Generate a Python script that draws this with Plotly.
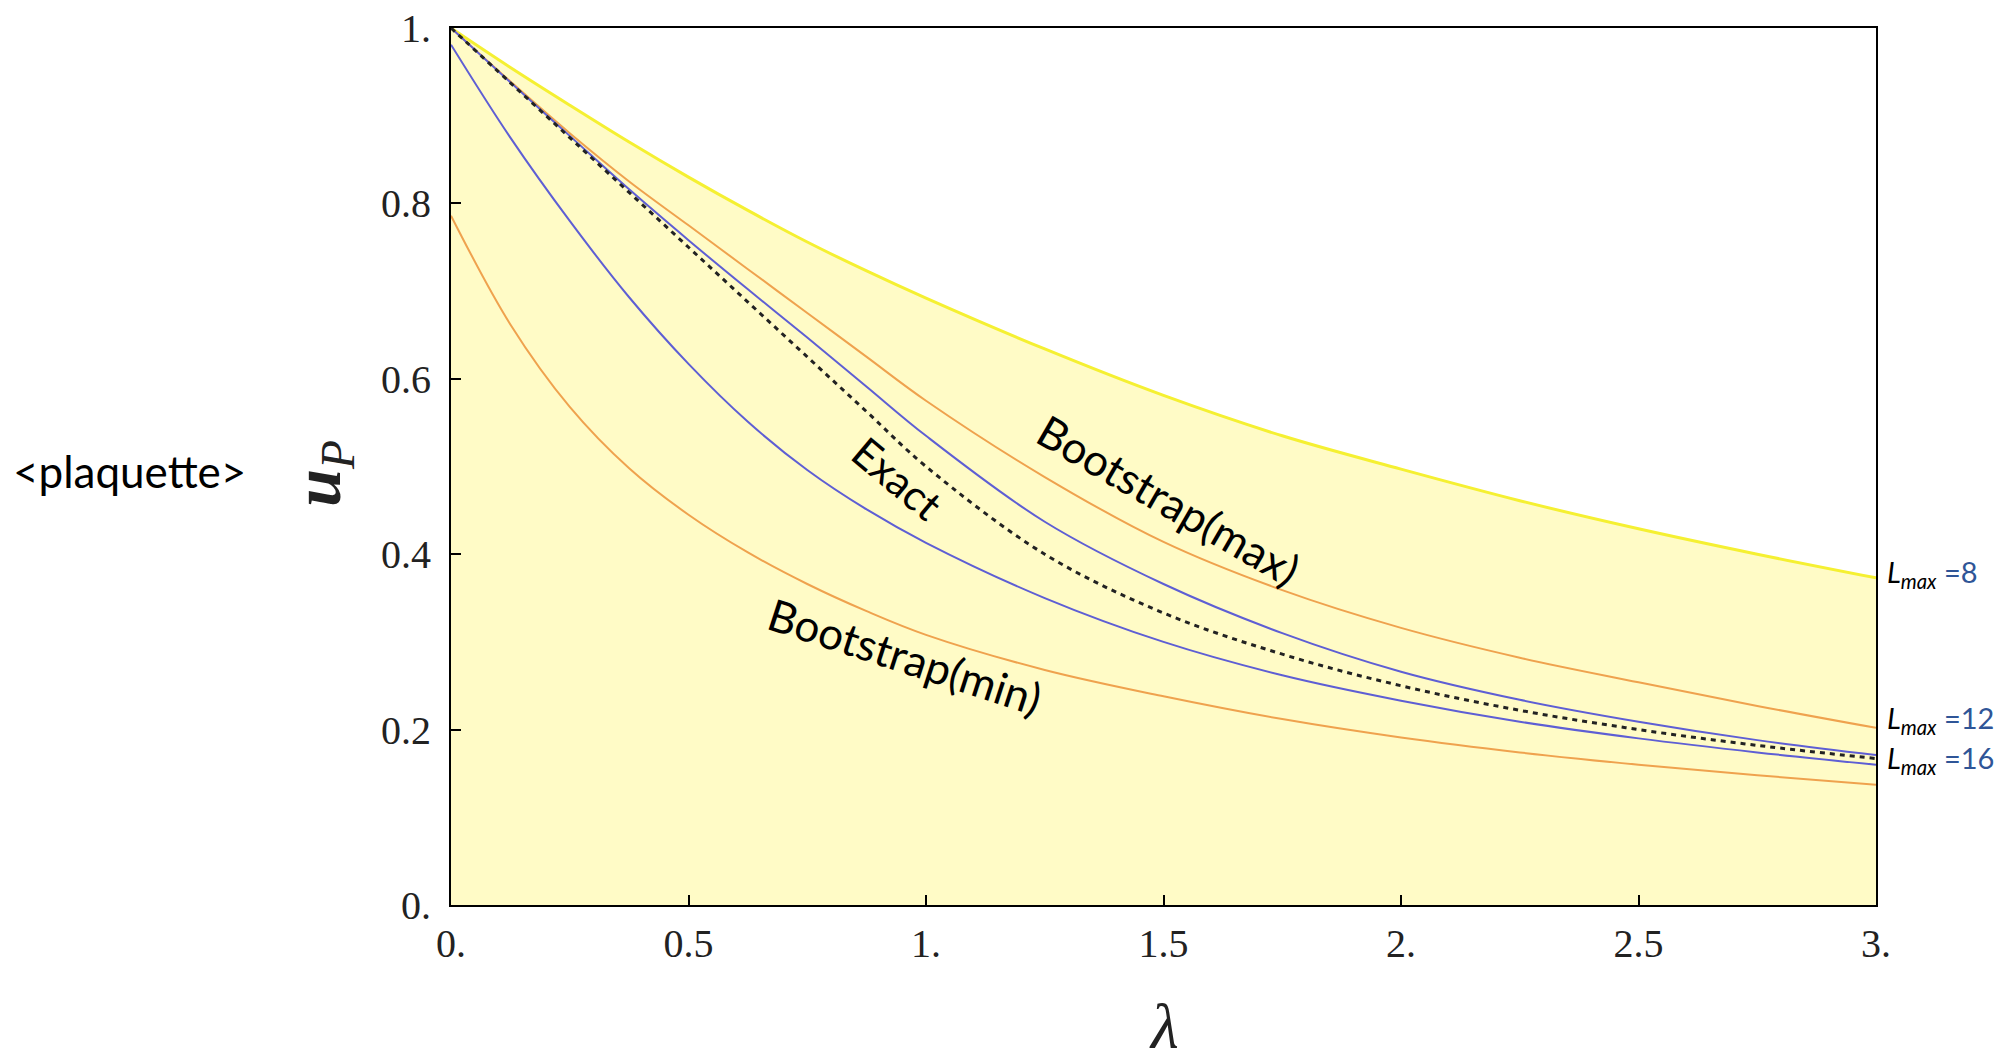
import plotly.graph_objects as go

# lambda grid (read positions)
lam = [0, 0.125, 0.25, 0.375, 0.5, 0.625, 0.75, 0.875, 1.0, 1.25, 1.5, 1.75, 2.0, 2.25, 2.5, 2.75, 3.0]

# Lmax=8 upper bound (yellow)
up8 = [1.0, 0.955, 0.912, 0.870, 0.830, 0.792, 0.756, 0.723, 0.692, 0.634, 0.581, 0.535, 0.497, 0.461, 0.429, 0.400, 0.373]
# Lmax=12 bounds (orange) - Bootstrap(max) / Bootstrap(min)
up12 = [1.0, 0.939, 0.880, 0.825, 0.775, 0.725, 0.675, 0.625, 0.575, 0.488, 0.414, 0.359, 0.316, 0.282, 0.254, 0.227, 0.202]
lo12 = [0.786, 0.662, 0.568, 0.498, 0.445, 0.402, 0.366, 0.335, 0.308, 0.268, 0.238, 0.212, 0.191, 0.174, 0.160, 0.148, 0.137]
# Lmax=16 bounds (blue)
up16 = [1.0, 0.938, 0.877, 0.816, 0.758, 0.702, 0.647, 0.591, 0.535, 0.437, 0.366, 0.310, 0.266, 0.234, 0.209, 0.188, 0.171]
lo16 = [0.981, 0.875, 0.780, 0.693, 0.617, 0.551, 0.496, 0.451, 0.413, 0.350, 0.300, 0.262, 0.233, 0.209, 0.190, 0.174, 0.160]
# Exact result (dashed)
exact = [1.0, 0.9375, 0.875, 0.8125, 0.750, 0.6875, 0.625, 0.5625, 0.500, 0.400, 0.333, 0.286, 0.250, 0.222, 0.200, 0.182, 0.167]

xtick_vals = [0, 0.5, 1, 1.5, 2, 2.5, 3]
xtick_text = ["0.", "0.5", "1.", "1.5", "2.", "2.5", "3."]
ytick_vals = [0, 0.2, 0.4, 0.6, 0.8, 1.0]
ytick_text = ["0.", "0.2", "0.4", "0.6", "0.8", "1."]

YELLOW = "#F5F032"
FILL = "#FFFBC6"
ORANGE = "#EFA24E"
BLUE = "#5E5ED4"
LBLUE = "#2F5597"

fig = go.Figure()
fig.add_trace(go.Scatter(x=lam, y=up8, mode="lines", fill="tozeroy", fillcolor=FILL,
                         line=dict(color=YELLOW, width=3, shape="spline"), showlegend=False))
fig.add_trace(go.Scatter(x=lam, y=up12, mode="lines", line=dict(color=ORANGE, width=2, shape="spline"), showlegend=False))
fig.add_trace(go.Scatter(x=lam, y=lo12, mode="lines", line=dict(color=ORANGE, width=2, shape="spline"), showlegend=False))
fig.add_trace(go.Scatter(x=lam, y=up16, mode="lines", line=dict(color=BLUE, width=2, shape="spline"), showlegend=False))
fig.add_trace(go.Scatter(x=lam, y=lo16, mode="lines", line=dict(color=BLUE, width=2, shape="spline"), showlegend=False))
fig.add_trace(go.Scatter(x=lam, y=exact, mode="lines", line=dict(color="#222222", width=3, dash="5px,5px", shape="spline"), showlegend=False))

serif = "Liberation Serif"
sans = "Lato"

# page body has an 8px margin, so the figure is sized/offset to compensate
fig.update_layout(
    width=1997, height=1048,
    margin=dict(l=443, r=129, t=20, b=151, autoexpand=False),
    paper_bgcolor="white", plot_bgcolor="white",
    xaxis=dict(range=[0, 3], tickvals=xtick_vals, ticktext=xtick_text, showgrid=False, zeroline=False,
               showline=True, linecolor="black", linewidth=2, mirror=True, automargin=False,
               ticks="inside", ticklen=10, tickwidth=1.5, tickcolor="black", ticklabeloverflow="allow",
               tickfont=dict(family=serif, size=40, color="#222"), ticklabelstandoff=2),
    yaxis=dict(range=[0, 1], tickvals=ytick_vals, ticktext=ytick_text, showgrid=False, zeroline=False,
               showline=True, linecolor="black", linewidth=2, mirror=True, automargin=False,
               ticks="inside", ticklen=10, tickwidth=1.5, tickcolor="black", ticklabeloverflow="allow",
               tickfont=dict(family=serif, size=40, color="#222"), ticklabelstandoff=10),
)

ann = []
ann.append(dict(text="<i>λ</i>", x=0.5, y=-0.138, xref="paper", yref="paper", showarrow=False,
                xanchor="center", yanchor="middle", height=56, valign="middle",
                font=dict(family=serif, size=64, color="#222")))
ann.append(dict(text="<b><i>u</i></b><sub><i>P</i></sub>", x=-0.091, y=0.492, xref="paper", yref="paper",
                xanchor="center", yanchor="middle",
                showarrow=False, textangle=-90, font=dict(family=serif, size=68, color="#222")))
ann.append(dict(text="&lt;plaquette&gt;", x=-0.2253, y=0.495, xref="paper", yref="paper", showarrow=False,
                xanchor="center", yanchor="middle", font=dict(family=sans, size=44, color="black")))
ann.append(dict(text="Bootstrap(max)", x=1.512, y=0.462, xref="x", yref="y", showarrow=False, textangle=30,
                xanchor="center", yanchor="middle", font=dict(family=sans, size=44, color="black")))
ann.append(dict(text="Exact", x=0.94, y=0.487, xref="x", yref="y", showarrow=False, textangle=40,
                xanchor="center", yanchor="middle", font=dict(family=sans, size=42, color="black")))
ann.append(dict(text="Bootstrap(min)", x=0.956, y=0.284, xref="x", yref="y", showarrow=False, textangle=18,
                xanchor="center", yanchor="middle", font=dict(family=sans, size=44, color="black")))
for val, yy in [("8", 0.378), ("12", 0.212), ("16", 0.166)]:
    ann.append(dict(text="<i>L</i><sub><i>max</i></sub><span style='color:%s'> =%s</span>" % (LBLUE, val),
                    x=1.0065, y=yy, xref="paper", yref="y", xanchor="left", yanchor="middle", showarrow=False,
                    font=dict(family=sans, size=29, color="black")))
fig.update_layout(annotations=ann)

fig.write_html("out.html")
